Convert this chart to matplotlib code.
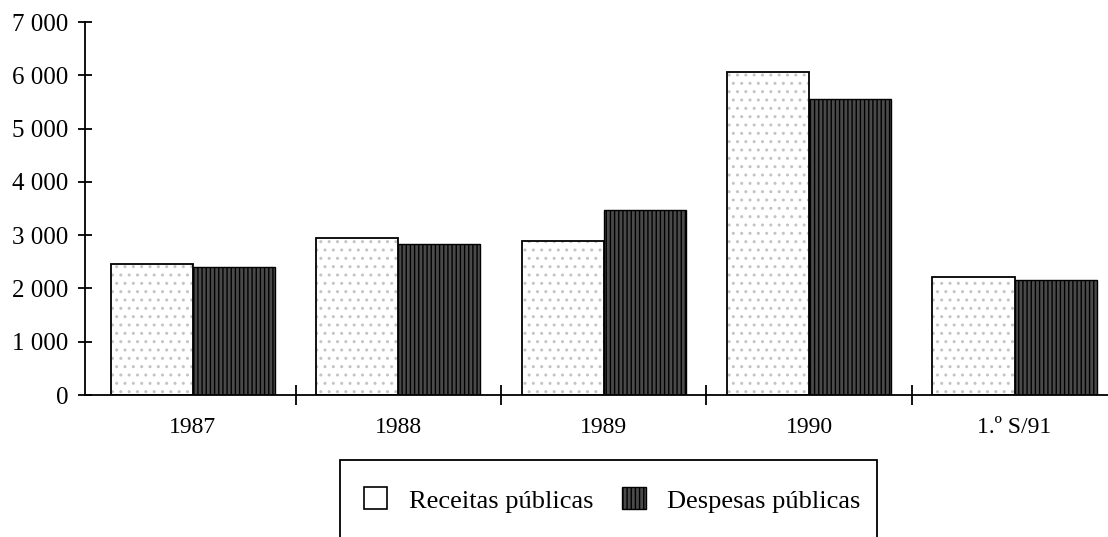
import numpy as np
import matplotlib
matplotlib.use("Agg")
import matplotlib.pyplot as plt
from matplotlib.patches import Rectangle, Patch

# dados
anos = ["1987", "1988", "1989", "1990", "1.º S/91"]
receitas = [2450, 2950, 2890, 6060, 2210]
despesas = [2400, 2830, 3470, 5550, 2160]
yticks = [0, 1000, 2000, 3000, 4000, 5000, 6000, 7000]
ylabels = ["0", "1 000", "2 000", "3 000", "4 000", "5 000", "6 000", "7 000"]

plt.rcParams['font.family'] = ['Liberation Serif', 'DejaVu Serif']
plt.rcParams['hatch.linewidth'] = 1.0

fig = plt.figure(figsize=(11.08, 5.37), dpi=100)
ax = fig.add_axes([0.0767, 0.2644, 0.9233, 0.6946])

x = np.arange(len(anos))
w = 0.4

# receitas: branco com pontilhado leve
ax.bar(x - w/2, receitas, w, facecolor='white', edgecolor='#c4c4c4', hatch='..', linewidth=0)
ax.bar(x - w/2, receitas, w, facecolor='none', edgecolor='black', linewidth=1.3)
# despesas: riscas verticais escuras
ax.bar(x + w/2, despesas, w, facecolor='#4a4a4a', edgecolor='black', hatch='||||', linewidth=1.0)

ax.set_xlim(-0.525, 4.455)
ax.set_ylim(0, 7000)
ax.spines['top'].set_visible(False)
ax.spines['right'].set_visible(False)
ax.spines['left'].set_linewidth(1.3)
ax.spines['bottom'].set_linewidth(1.3)

ax.set_yticks(yticks)
ax.set_yticklabels(ylabels, fontsize=18)
ax.tick_params(axis='y', direction='inout', length=10, width=1.3, pad=7)

ax.set_xticks(x[:-1] + 0.5)
ax.set_xticklabels([])
ax.set_xticks(x, minor=True)
ax.set_xticklabels(anos, minor=True, fontsize=17)
ax.tick_params(axis='x', which='major', direction='inout', length=14, width=1.3)
ax.tick_params(axis='x', which='minor', length=0, pad=16)

# caixa da legenda
fig.patches.append(Rectangle((340/1108, -0.05), 537/1108, 0.05 + 77/537,
                             transform=fig.transFigure, facecolor='none',
                             edgecolor='black', linewidth=1.3))
handles = [Patch(facecolor='white', edgecolor='black', linewidth=1.2),
           Patch(facecolor='#4a4a4a', edgecolor='black', hatch='||||', linewidth=1.0)]
fig.legend(handles, ["Receitas públicas", "Despesas públicas"], loc='center',
           bbox_to_anchor=(612/1108, 37/537), ncol=2, frameon=False, fontsize=19,
           handlelength=0.9, handleheight=0.9, columnspacing=1.1, handletextpad=0.8)

fig.savefig('out.png', dpi=100)
